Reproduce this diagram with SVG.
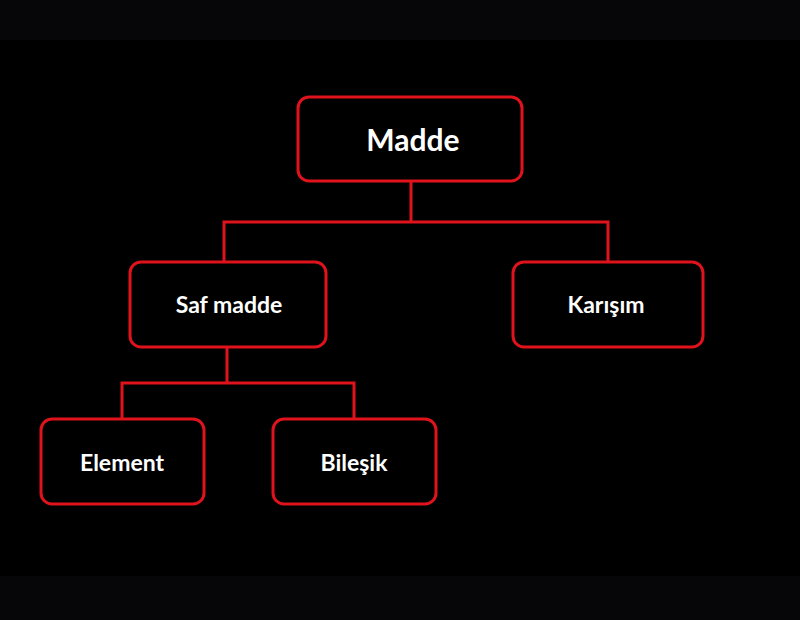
<svg xmlns="http://www.w3.org/2000/svg" width="800" height="620" viewBox="0 0 800 620">
<style>
.box{fill:#000;stroke:#e0131d;stroke-width:3}
.lbl{fill:#fff;font-family:Lato,"Noto Sans",sans-serif;font-weight:bold;font-size:23px;text-anchor:middle;dominant-baseline:central}
.con{fill:none;stroke:#e0131d;stroke-width:3}
</style>
<rect width="800" height="620" fill="#000"/>
<rect width="800" height="40" fill="#060508"/>
<rect y="576" width="800" height="44" fill="#060508"/>
<g id="connectors">
<path class="con" d="M411 181V222M224 262V222H608V262"/>
<path class="con" d="M227 347V383M122 419V383H354V419"/>
</g>
<g id="madde"><rect class="box" x="298" y="97" width="224" height="84" rx="11"/><text class="lbl" x="413" y="139" style="font-size:30px">Madde</text></g>
<g id="saf"><rect class="box" x="130" y="262" width="196" height="85" rx="11"/><text class="lbl" x="229" y="304">Saf madde</text></g>
<g id="karisim"><rect class="box" x="513" y="262" width="190" height="85" rx="11"/><text class="lbl" x="606" y="304">Karışım</text></g>
<g id="element"><rect class="box" x="41" y="419" width="163" height="85" rx="11"/><text class="lbl" x="122" y="462">Element</text></g>
<g id="bilesik"><rect class="box" x="273" y="419" width="163" height="85" rx="11"/><text class="lbl" x="354" y="462">Bileşik</text></g>
</svg>
